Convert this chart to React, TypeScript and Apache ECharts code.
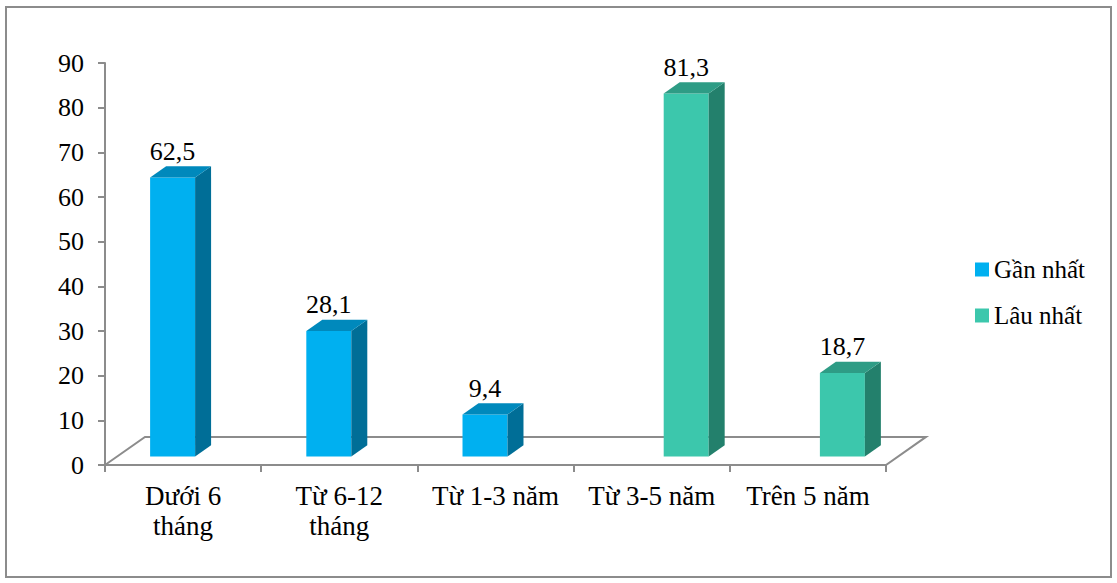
import React, { useEffect, useRef } from "react";
import * as echarts from "echarts";

const categories = ["Dưới 6\ntháng", "Từ 6-12\ntháng", "Từ 1-3 năm", "Từ 3-5 năm", "Trên 5 năm"];
const ganNhat: (number | null)[] = [62.5, 28.1, 9.4, null, null];
const lauNhat: (number | null)[] = [null, null, null, 81.3, 18.7];
const seriesNames = ["Gần nhất", "Lâu nhất"];
const yMin = 0;
const yMax = 90;
const yInterval = 10;

const FONT = "Liberation Serif";
const GRAY = "#8c8c8c";

const palette = [
  { front: "#00B0F0", top: "#0089BC", side: "#006E97" },
  { front: "#3CC7AC", top: "#2E9C85", side: "#23806C" },
];

function toData(arr: (number | null)[]) {
  return arr.flatMap((v, i) => (v == null ? [] : [[i, v]]));
}

function depth(bw: number) {
  return { fdx: bw * 0.256, fdy: -bw * 0.18 };
}

function makeBarRenderer(slot: number) {
  const col = palette[slot];
  return (params: any, api: any) => {
    const cat = api.value(0);
    const v = api.value(1);
    const bw = api.size([1, 0])[0];
    const { fdx, fdy } = depth(bw);
    const ox = fdx * 0.3, oy = fdy * 0.3;
    const ddx = fdx * 0.4, ddy = fdy * 0.4;
    const w = bw * 0.288;
    const c = api.coord([cat, 0]);
    const t = api.coord([cat, v]);
    const cx = c[0] + ox;
    const x0 = slot === 0 ? cx - w : cx;
    const x1 = x0 + w;
    const yb = c[1] + oy;
    const yt = t[1] + oy;
    return {
      type: "group",
      children: [
        { type: "polygon", shape: { points: [[x0, yb], [x1, yb], [x1, yt], [x0, yt]] }, style: { fill: col.front } },
        { type: "polygon", shape: { points: [[x1, yb], [x1 + ddx, yb + ddy], [x1 + ddx, yt + ddy], [x1, yt]] }, style: { fill: col.side } },
        { type: "polygon", shape: { points: [[x0, yt], [x1, yt], [x1 + ddx, yt + ddy], [x0 + ddx, yt + ddy]] }, style: { fill: col.top } },
        {
          type: "text",
          style: {
            text: String(v).replace(".", ","),
            x: (x0 + x1) / 2,
            y: yt + ddy - 15,
            align: "center",
            verticalAlign: "middle",
            fontSize: 26,
            fontFamily: FONT,
            fill: "#000",
          },
        },
      ],
    };
  };
}

export default function App() {
  const ref = useRef<HTMLDivElement>(null);
  useEffect(() => {
    if (!ref.current) return;
    const chart = echarts.init(ref.current, undefined, { renderer: "svg" });
    chart.setOption({
      animation: false,
      backgroundColor: "#fff",
      textStyle: { fontFamily: FONT },
      graphic: [
        { type: "rect", shape: { x: 6, y: 7, width: 1105, height: 570 }, style: { fill: "none", stroke: GRAY, lineWidth: 2 }, silent: true },
      ],
      grid: { left: 105, top: 63, width: 781, height: 402, containLabel: false },
      legend: {
        data: seriesNames,
        orient: "vertical",
        left: 970,
        top: 252,
        itemWidth: 14,
        itemHeight: 14,
        itemGap: 21,
        icon: "rect",
        textStyle: { fontSize: 25, fontFamily: FONT, color: "#000" },
      },
      xAxis: {
        type: "category",
        data: categories,
        axisLine: { lineStyle: { color: GRAY, width: 2 } },
        axisTick: { show: true, length: 7, lineStyle: { color: GRAY, width: 2 } },
        axisLabel: { interval: 0, fontSize: 27, fontFamily: FONT, color: "#000", margin: 16, lineHeight: 30 },
      },
      yAxis: {
        type: "value",
        min: yMin,
        max: yMax,
        interval: yInterval,
        axisLine: { show: true, lineStyle: { color: GRAY, width: 2 } },
        axisTick: { show: true, length: 7, lineStyle: { color: GRAY, width: 2 } },
        splitLine: { show: false },
        axisLabel: { fontSize: 26, fontFamily: FONT, color: "#000", margin: 21 },
      },
      series: [
        {
          type: "custom",
          name: "floor",
          silent: true,
          data: [[0, 0]],
          encode: { x: 0, y: 1 },
          z: 1,
          renderItem: (params: any, api: any) => {
            const cs = params.coordSys;
            const bw = api.size([1, 0])[0];
            const { fdx, fdy } = depth(bw);
            const x0 = cs.x, x1 = cs.x + cs.width, y0 = cs.y + cs.height;
            return {
              type: "polygon",
              shape: { points: [[x0, y0], [x0 + fdx, y0 + fdy], [x1 + fdx, y0 + fdy], [x1, y0]] },
              style: { fill: "none", stroke: GRAY, lineWidth: 2 },
            };
          },
        },
        {
          type: "custom",
          name: seriesNames[0],
          itemStyle: { color: palette[0].front },
          data: toData(ganNhat),
          encode: { x: 0, y: 1 },
          z: 2,
          renderItem: makeBarRenderer(0),
        },
        {
          type: "custom",
          name: seriesNames[1],
          itemStyle: { color: palette[1].front },
          data: toData(lauNhat),
          encode: { x: 0, y: 1 },
          z: 2,
          renderItem: makeBarRenderer(1),
        },
      ],
    });
    return () => chart.dispose();
  }, []);
  return <div ref={ref} style={{ position: "fixed", left: 0, top: 0, width: 1117, height: 583 }} />;
}
